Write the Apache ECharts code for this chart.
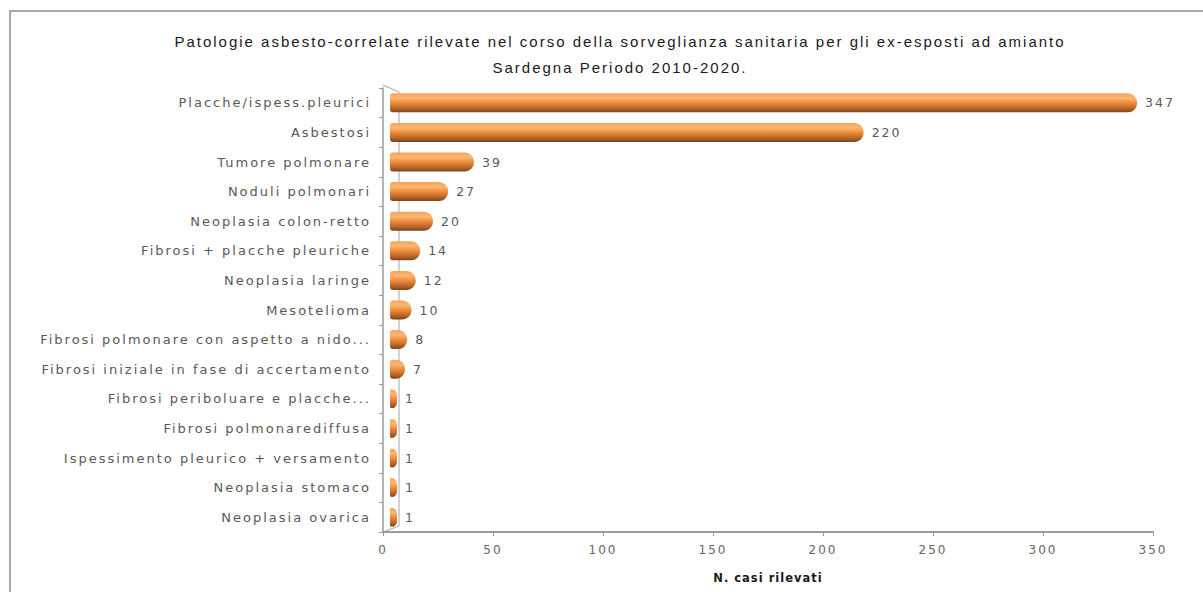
<!DOCTYPE html>
<html>
<head>
<meta charset="utf-8">
<script src="https://cdn.jsdelivr.net/npm/echarts@6/dist/echarts.min.js"></script>
<style>
html,body{margin:0;padding:0;background:#fff;}
#c{width:1203px;height:592px;}
#c svg text{letter-spacing:2px;}
#c svg text[style*="bold"]{letter-spacing:1px;}
</style>
</head>
<body>
<div id="c"></div>
<script>
const categories = [
  'Placche/ispess.pleurici',
  'Asbestosi',
  'Tumore polmonare',
  'Noduli polmonari',
  'Neoplasia colon-retto',
  'Fibrosi + placche pleuriche',
  'Neoplasia laringe',
  'Mesotelioma',
  'Fibrosi polmonare con aspetto a nido...',
  'Fibrosi iniziale in fase di accertamento',
  'Fibrosi periboluare e placche...',
  'Fibrosi polmonarediffusa',
  'Ispessimento pleurico + versamento',
  'Neoplasia stomaco',
  'Neoplasia ovarica'
];
const values = [347, 220, 39, 27, 20, 14, 12, 10, 8, 7, 1, 1, 1, 1, 1];
const xTicks = [0, 50, 100, 150, 200, 250, 300, 350];

const labelFont = 'DejaVu Sans';
const chart = echarts.init(document.getElementById('c'), null, {renderer: 'svg'});
const barGradient = new echarts.graphic.LinearGradient(0, 0, 0, 1, [
  {offset: 0, color: '#f3a25c'},
  {offset: 0.25, color: '#fdb872'},
  {offset: 0.5, color: '#f18c3a'},
  {offset: 0.8, color: '#b5652a'},
  {offset: 1, color: '#7a4318'}
]);
chart.setOption({
  animation: false,
  title: {
    text: 'Patologie asbesto-correlate rilevate nel corso della sorveglianza sanitaria per gli ex-esposti ad amianto\nSardegna Periodo 2010-2020.',
    left: 615, top: 23, textAlign: 'center',
    textStyle: {fontFamily: 'Liberation Sans', fontSize: 15, fontWeight: 'normal', color: '#1a1a1a', lineHeight: 26}
  },
  grid: {left: 383, right: 50, top: 88, bottom: 60},
  xAxis: [{
    type: 'value', min: xTicks[0], max: xTicks[xTicks.length - 1], interval: 50,
    name: 'N. casi rilevati', nameLocation: 'middle', nameGap: 40,
    nameTextStyle: {fontFamily: 'DejaVu Sans', fontSize: 11.5, fontWeight: 'bold', color: '#1a1a1a'},
    axisLine: {show: true, lineStyle: {color: '#9a9a9a', width: 2}},
    axisTick: {show: true, length: 4, lineStyle: {color: '#9a9a9a'}},
    axisLabel: {fontFamily: labelFont, fontSize: 12, color: '#666', margin: 12},
    splitLine: {show: false}
  }, {
    // hidden depth-shifted axis for the 3D-looking bars (front face offset from the wall)
    type: 'value', min: -3.25, max: 354.4, show: false,
    splitLine: {show: false}
  }],
  yAxis: {
    type: 'category', data: categories, inverse: true,
    axisLine: {show: true, lineStyle: {color: '#9a9a9a', width: 1.5}},
    axisTick: {show: true, length: 4, lineStyle: {color: '#9a9a9a'}},
    axisLabel: {fontFamily: labelFont, fontSize: 13, color: '#595959', margin: 12}
  },
  series: [{
    type: 'bar', data: values, xAxisIndex: 1, barWidth: 19, barMinHeight: 7,
    itemStyle: {color: barGradient, borderRadius: [3, 9, 9, 3]},
    label: {show: true, position: 'right', distance: 8, fontFamily: labelFont, fontSize: 12.5, color: '#595959'}
  }]
});
// 3D back wall decoration
const pTop = chart.convertToPixel({gridIndex: 0}, [0, categories[0]]);
const pBot = chart.convertToPixel({gridIndex: 0}, [0, categories[categories.length - 1]]);
const band = (pBot[1] - pTop[1]) / (categories.length - 1);
const x0 = pTop[0], yT = pTop[1] - band / 2, yB = pBot[1] + band / 2;
chart.setOption({
  graphic: [
    {type: 'rect', shape: {x: 10, y: 11, width: 1300, height: 700}, style: {fill: 'none', stroke: '#8c8c8c', lineWidth: 1.5}, silent: true, z: -1},
    {type: 'polyline', shape: {points: [[x0, yT - 3], [x0 + 16, yT + 4], [x0 + 16, yB - 6], [x0, yB]]}, style: {fill: 'none', stroke: '#a6a6a6', lineWidth: 1}, silent: true, z: -1}
  ]
});
</script>
</body>
</html>
